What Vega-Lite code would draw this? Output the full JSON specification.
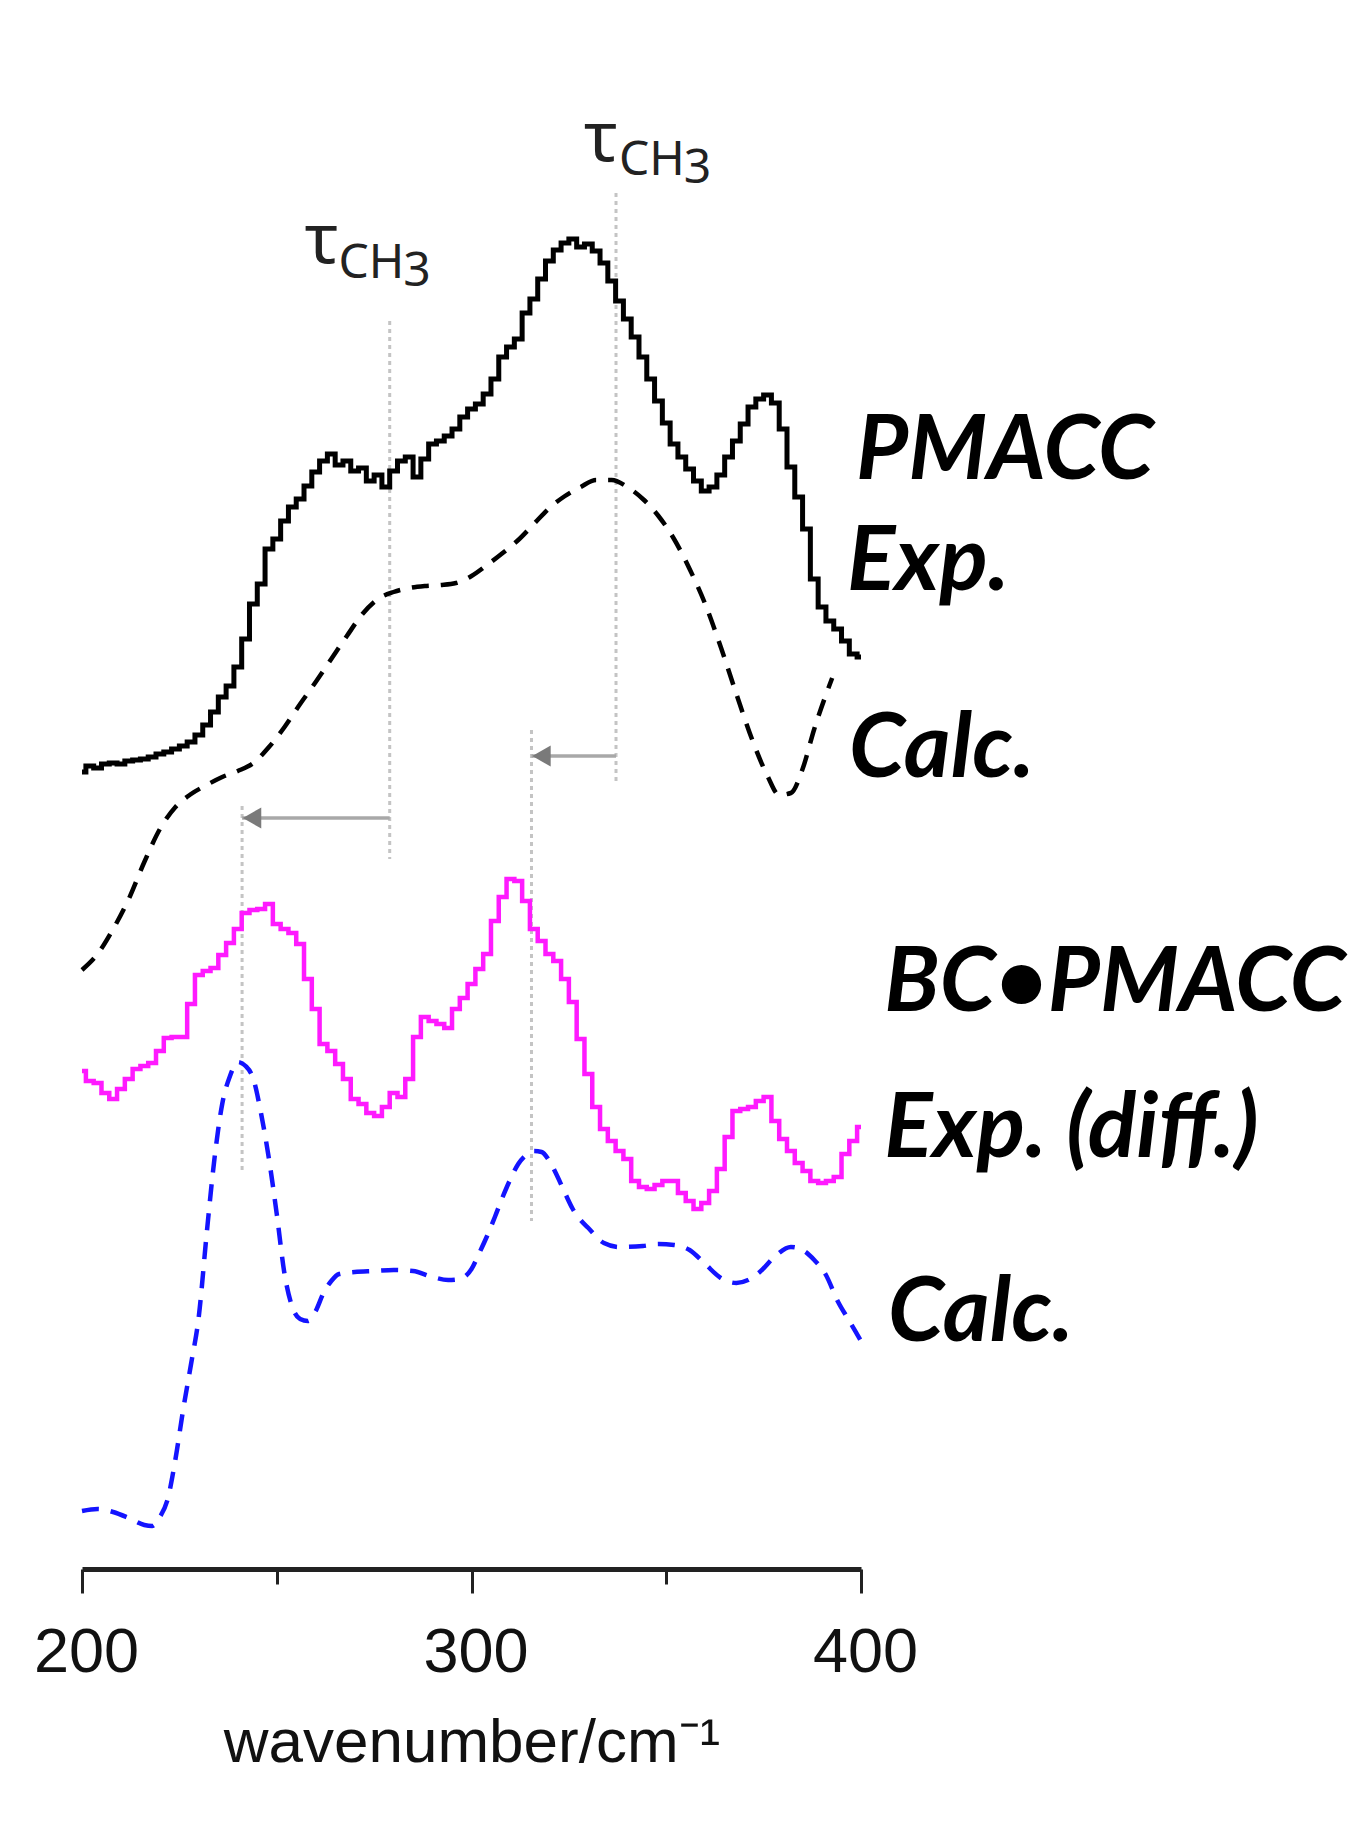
{
"$schema": "https://vega.github.io/schema/vega-lite/v6.json",
"width": 779, "height": 1569,
"autosize": {"type": "none"},
"padding": {"left": 82, "top": 0, "right": 499, "bottom": 263},
"background": "white",
"config": {"view": {"stroke": null}},
"datasets": {
"spectra": [
{"s":"PMACC Exp.","wn":200,"I":797},{"s":"PMACC Exp.","wn":202,"I":803},{"s":"PMACC Exp.","wn":204,"I":801},{"s":"PMACC Exp.","wn":206,"I":805},{"s":"PMACC Exp.","wn":208,"I":806},{"s":"PMACC Exp.","wn":210,"I":805},{"s":"PMACC Exp.","wn":212,"I":808},{"s":"PMACC Exp.","wn":214,"I":809},{"s":"PMACC Exp.","wn":216,"I":810},{"s":"PMACC Exp.","wn":218,"I":812},{"s":"PMACC Exp.","wn":220,"I":815},{"s":"PMACC Exp.","wn":222,"I":817},{"s":"PMACC Exp.","wn":224,"I":820},{"s":"PMACC Exp.","wn":226,"I":823},{"s":"PMACC Exp.","wn":228,"I":827},{"s":"PMACC Exp.","wn":230,"I":834},{"s":"PMACC Exp.","wn":232,"I":844},{"s":"PMACC Exp.","wn":234,"I":857},{"s":"PMACC Exp.","wn":236,"I":872},{"s":"PMACC Exp.","wn":238,"I":883},{"s":"PMACC Exp.","wn":240,"I":902},{"s":"PMACC Exp.","wn":242,"I":930},{"s":"PMACC Exp.","wn":244,"I":965},{"s":"PMACC Exp.","wn":246,"I":985},{"s":"PMACC Exp.","wn":248,"I":1020},{"s":"PMACC Exp.","wn":250,"I":1030},{"s":"PMACC Exp.","wn":252,"I":1048},{"s":"PMACC Exp.","wn":254,"I":1062},{"s":"PMACC Exp.","wn":256,"I":1070},{"s":"PMACC Exp.","wn":258,"I":1083},{"s":"PMACC Exp.","wn":260,"I":1097},{"s":"PMACC Exp.","wn":262,"I":1108},{"s":"PMACC Exp.","wn":264,"I":1115},{"s":"PMACC Exp.","wn":266,"I":1104},{"s":"PMACC Exp.","wn":268,"I":1108},{"s":"PMACC Exp.","wn":270,"I":1098},{"s":"PMACC Exp.","wn":272,"I":1101},{"s":"PMACC Exp.","wn":274,"I":1088},{"s":"PMACC Exp.","wn":276,"I":1094},{"s":"PMACC Exp.","wn":278,"I":1082},{"s":"PMACC Exp.","wn":280,"I":1098},{"s":"PMACC Exp.","wn":282,"I":1108},{"s":"PMACC Exp.","wn":284,"I":1112},{"s":"PMACC Exp.","wn":286,"I":1092},{"s":"PMACC Exp.","wn":288,"I":1110},{"s":"PMACC Exp.","wn":290,"I":1125},{"s":"PMACC Exp.","wn":292,"I":1128},{"s":"PMACC Exp.","wn":294,"I":1133},{"s":"PMACC Exp.","wn":296,"I":1140},{"s":"PMACC Exp.","wn":298,"I":1152},{"s":"PMACC Exp.","wn":300,"I":1160},{"s":"PMACC Exp.","wn":302,"I":1165},{"s":"PMACC Exp.","wn":304,"I":1175},{"s":"PMACC Exp.","wn":306,"I":1190},{"s":"PMACC Exp.","wn":308,"I":1212},{"s":"PMACC Exp.","wn":310,"I":1222},{"s":"PMACC Exp.","wn":312,"I":1230},{"s":"PMACC Exp.","wn":314,"I":1256},{"s":"PMACC Exp.","wn":316,"I":1270},{"s":"PMACC Exp.","wn":318,"I":1290},{"s":"PMACC Exp.","wn":320,"I":1308},{"s":"PMACC Exp.","wn":322,"I":1319},{"s":"PMACC Exp.","wn":324,"I":1326},{"s":"PMACC Exp.","wn":326,"I":1330},{"s":"PMACC Exp.","wn":328,"I":1322},{"s":"PMACC Exp.","wn":330,"I":1325},{"s":"PMACC Exp.","wn":332,"I":1318},{"s":"PMACC Exp.","wn":334,"I":1306},{"s":"PMACC Exp.","wn":336,"I":1288},{"s":"PMACC Exp.","wn":338,"I":1268},{"s":"PMACC Exp.","wn":340,"I":1250},{"s":"PMACC Exp.","wn":342,"I":1232},{"s":"PMACC Exp.","wn":344,"I":1212},{"s":"PMACC Exp.","wn":346,"I":1190},{"s":"PMACC Exp.","wn":348,"I":1168},{"s":"PMACC Exp.","wn":350,"I":1146},{"s":"PMACC Exp.","wn":352,"I":1125},{"s":"PMACC Exp.","wn":354,"I":1112},{"s":"PMACC Exp.","wn":356,"I":1100},{"s":"PMACC Exp.","wn":358,"I":1088},{"s":"PMACC Exp.","wn":360,"I":1078},{"s":"PMACC Exp.","wn":362,"I":1082},{"s":"PMACC Exp.","wn":364,"I":1094},{"s":"PMACC Exp.","wn":366,"I":1112},{"s":"PMACC Exp.","wn":368,"I":1128},{"s":"PMACC Exp.","wn":370,"I":1145},{"s":"PMACC Exp.","wn":372,"I":1162},{"s":"PMACC Exp.","wn":374,"I":1170},{"s":"PMACC Exp.","wn":376,"I":1174},{"s":"PMACC Exp.","wn":378,"I":1166},{"s":"PMACC Exp.","wn":380,"I":1140},{"s":"PMACC Exp.","wn":382,"I":1102},{"s":"PMACC Exp.","wn":384,"I":1072},{"s":"PMACC Exp.","wn":386,"I":1040},{"s":"PMACC Exp.","wn":388,"I":990},{"s":"PMACC Exp.","wn":390,"I":962},{"s":"PMACC Exp.","wn":392,"I":948},{"s":"PMACC Exp.","wn":394,"I":940},{"s":"PMACC Exp.","wn":396,"I":928},{"s":"PMACC Exp.","wn":398,"I":915},{"s":"PMACC Exp.","wn":400,"I":912},

{"s":"PMACC Calc.","wn":200,"I":599},{"s":"PMACC Calc.","wn":204,"I":615},{"s":"PMACC Calc.","wn":208,"I":640},{"s":"PMACC Calc.","wn":212,"I":670},{"s":"PMACC Calc.","wn":216,"I":707},{"s":"PMACC Calc.","wn":220,"I":740},{"s":"PMACC Calc.","wn":224,"I":762},{"s":"PMACC Calc.","wn":228,"I":775},{"s":"PMACC Calc.","wn":232,"I":784},{"s":"PMACC Calc.","wn":236,"I":792},{"s":"PMACC Calc.","wn":240,"I":798},{"s":"PMACC Calc.","wn":244,"I":806},{"s":"PMACC Calc.","wn":248,"I":822},{"s":"PMACC Calc.","wn":252,"I":842},{"s":"PMACC Calc.","wn":256,"I":865},{"s":"PMACC Calc.","wn":260,"I":887},{"s":"PMACC Calc.","wn":264,"I":910},{"s":"PMACC Calc.","wn":268,"I":933},{"s":"PMACC Calc.","wn":272,"I":955},{"s":"PMACC Calc.","wn":276,"I":970},{"s":"PMACC Calc.","wn":280,"I":977},{"s":"PMACC Calc.","wn":284,"I":981},{"s":"PMACC Calc.","wn":288,"I":983},{"s":"PMACC Calc.","wn":292,"I":984},{"s":"PMACC Calc.","wn":296,"I":986},{"s":"PMACC Calc.","wn":300,"I":993},{"s":"PMACC Calc.","wn":304,"I":1004},{"s":"PMACC Calc.","wn":308,"I":1016},{"s":"PMACC Calc.","wn":312,"I":1029},{"s":"PMACC Calc.","wn":316,"I":1045},{"s":"PMACC Calc.","wn":320,"I":1061},{"s":"PMACC Calc.","wn":324,"I":1073},{"s":"PMACC Calc.","wn":328,"I":1082},{"s":"PMACC Calc.","wn":332,"I":1089},{"s":"PMACC Calc.","wn":336,"I":1089},{"s":"PMACC Calc.","wn":340,"I":1082},{"s":"PMACC Calc.","wn":344,"I":1070},{"s":"PMACC Calc.","wn":348,"I":1053},{"s":"PMACC Calc.","wn":352,"I":1030},{"s":"PMACC Calc.","wn":356,"I":1000},{"s":"PMACC Calc.","wn":360,"I":965},{"s":"PMACC Calc.","wn":364,"I":922},{"s":"PMACC Calc.","wn":368,"I":875},{"s":"PMACC Calc.","wn":372,"I":830},{"s":"PMACC Calc.","wn":376,"I":793},{"s":"PMACC Calc.","wn":379,"I":774},{"s":"PMACC Calc.","wn":382,"I":776},{"s":"PMACC Calc.","wn":385,"I":800},{"s":"PMACC Calc.","wn":388,"I":840},{"s":"PMACC Calc.","wn":392.6,"I":891},

{"s":"BC•PMACC Exp. (diff.)","wn":200,"I":498},{"s":"BC•PMACC Exp. (diff.)","wn":202,"I":488},{"s":"BC•PMACC Exp. (diff.)","wn":204,"I":486},{"s":"BC•PMACC Exp. (diff.)","wn":206,"I":476},{"s":"BC•PMACC Exp. (diff.)","wn":208,"I":470},{"s":"BC•PMACC Exp. (diff.)","wn":210,"I":480},{"s":"BC•PMACC Exp. (diff.)","wn":212,"I":490},{"s":"BC•PMACC Exp. (diff.)","wn":214,"I":500},{"s":"BC•PMACC Exp. (diff.)","wn":216,"I":503},{"s":"BC•PMACC Exp. (diff.)","wn":218,"I":506},{"s":"BC•PMACC Exp. (diff.)","wn":220,"I":518},{"s":"BC•PMACC Exp. (diff.)","wn":222,"I":531},{"s":"BC•PMACC Exp. (diff.)","wn":224,"I":532},{"s":"BC•PMACC Exp. (diff.)","wn":226,"I":532},{"s":"BC•PMACC Exp. (diff.)","wn":228,"I":565},{"s":"BC•PMACC Exp. (diff.)","wn":230,"I":594},{"s":"BC•PMACC Exp. (diff.)","wn":232,"I":598},{"s":"BC•PMACC Exp. (diff.)","wn":234,"I":601},{"s":"BC•PMACC Exp. (diff.)","wn":236,"I":614},{"s":"BC•PMACC Exp. (diff.)","wn":238,"I":626},{"s":"BC•PMACC Exp. (diff.)","wn":240,"I":640},{"s":"BC•PMACC Exp. (diff.)","wn":242,"I":656},{"s":"BC•PMACC Exp. (diff.)","wn":244,"I":659},{"s":"BC•PMACC Exp. (diff.)","wn":246,"I":660},{"s":"BC•PMACC Exp. (diff.)","wn":248,"I":665},{"s":"BC•PMACC Exp. (diff.)","wn":250,"I":645},{"s":"BC•PMACC Exp. (diff.)","wn":252,"I":640},{"s":"BC•PMACC Exp. (diff.)","wn":254,"I":636},{"s":"BC•PMACC Exp. (diff.)","wn":256,"I":625},{"s":"BC•PMACC Exp. (diff.)","wn":258,"I":590},{"s":"BC•PMACC Exp. (diff.)","wn":260,"I":560},{"s":"BC•PMACC Exp. (diff.)","wn":262,"I":525},{"s":"BC•PMACC Exp. (diff.)","wn":264,"I":518},{"s":"BC•PMACC Exp. (diff.)","wn":266,"I":505},{"s":"BC•PMACC Exp. (diff.)","wn":268,"I":490},{"s":"BC•PMACC Exp. (diff.)","wn":270,"I":470},{"s":"BC•PMACC Exp. (diff.)","wn":272,"I":465},{"s":"BC•PMACC Exp. (diff.)","wn":274,"I":456},{"s":"BC•PMACC Exp. (diff.)","wn":276,"I":453},{"s":"BC•PMACC Exp. (diff.)","wn":278,"I":462},{"s":"BC•PMACC Exp. (diff.)","wn":280,"I":476},{"s":"BC•PMACC Exp. (diff.)","wn":282,"I":472},{"s":"BC•PMACC Exp. (diff.)","wn":284,"I":490},{"s":"BC•PMACC Exp. (diff.)","wn":286,"I":532},{"s":"BC•PMACC Exp. (diff.)","wn":288,"I":552},{"s":"BC•PMACC Exp. (diff.)","wn":290,"I":548},{"s":"BC•PMACC Exp. (diff.)","wn":292,"I":545},{"s":"BC•PMACC Exp. (diff.)","wn":294,"I":541},{"s":"BC•PMACC Exp. (diff.)","wn":296,"I":560},{"s":"BC•PMACC Exp. (diff.)","wn":298,"I":571},{"s":"BC•PMACC Exp. (diff.)","wn":300,"I":585},{"s":"BC•PMACC Exp. (diff.)","wn":302,"I":600},{"s":"BC•PMACC Exp. (diff.)","wn":304,"I":615},{"s":"BC•PMACC Exp. (diff.)","wn":306,"I":648},{"s":"BC•PMACC Exp. (diff.)","wn":308,"I":672},{"s":"BC•PMACC Exp. (diff.)","wn":310,"I":690},{"s":"BC•PMACC Exp. (diff.)","wn":312,"I":688},{"s":"BC•PMACC Exp. (diff.)","wn":314,"I":668},{"s":"BC•PMACC Exp. (diff.)","wn":316,"I":640},{"s":"BC•PMACC Exp. (diff.)","wn":318,"I":628},{"s":"BC•PMACC Exp. (diff.)","wn":320,"I":615},{"s":"BC•PMACC Exp. (diff.)","wn":322,"I":608},{"s":"BC•PMACC Exp. (diff.)","wn":324,"I":590},{"s":"BC•PMACC Exp. (diff.)","wn":326,"I":567},{"s":"BC•PMACC Exp. (diff.)","wn":328,"I":530},{"s":"BC•PMACC Exp. (diff.)","wn":330,"I":495},{"s":"BC•PMACC Exp. (diff.)","wn":332,"I":462},{"s":"BC•PMACC Exp. (diff.)","wn":334,"I":440},{"s":"BC•PMACC Exp. (diff.)","wn":336,"I":428},{"s":"BC•PMACC Exp. (diff.)","wn":338,"I":418},{"s":"BC•PMACC Exp. (diff.)","wn":340,"I":410},{"s":"BC•PMACC Exp. (diff.)","wn":342,"I":388},{"s":"BC•PMACC Exp. (diff.)","wn":344,"I":382},{"s":"BC•PMACC Exp. (diff.)","wn":346,"I":380},{"s":"BC•PMACC Exp. (diff.)","wn":348,"I":384},{"s":"BC•PMACC Exp. (diff.)","wn":350,"I":388},{"s":"BC•PMACC Exp. (diff.)","wn":352,"I":388},{"s":"BC•PMACC Exp. (diff.)","wn":354,"I":376},{"s":"BC•PMACC Exp. (diff.)","wn":356,"I":368},{"s":"BC•PMACC Exp. (diff.)","wn":358,"I":360},{"s":"BC•PMACC Exp. (diff.)","wn":360,"I":366},{"s":"BC•PMACC Exp. (diff.)","wn":362,"I":378},{"s":"BC•PMACC Exp. (diff.)","wn":364,"I":400},{"s":"BC•PMACC Exp. (diff.)","wn":366,"I":432},{"s":"BC•PMACC Exp. (diff.)","wn":368,"I":458},{"s":"BC•PMACC Exp. (diff.)","wn":370,"I":460},{"s":"BC•PMACC Exp. (diff.)","wn":372,"I":462},{"s":"BC•PMACC Exp. (diff.)","wn":374,"I":468},{"s":"BC•PMACC Exp. (diff.)","wn":376,"I":472},{"s":"BC•PMACC Exp. (diff.)","wn":378,"I":448},{"s":"BC•PMACC Exp. (diff.)","wn":380,"I":430},{"s":"BC•PMACC Exp. (diff.)","wn":382,"I":418},{"s":"BC•PMACC Exp. (diff.)","wn":384,"I":406},{"s":"BC•PMACC Exp. (diff.)","wn":386,"I":398},{"s":"BC•PMACC Exp. (diff.)","wn":388,"I":388},{"s":"BC•PMACC Exp. (diff.)","wn":390,"I":386},{"s":"BC•PMACC Exp. (diff.)","wn":392,"I":388},{"s":"BC•PMACC Exp. (diff.)","wn":394,"I":392},{"s":"BC•PMACC Exp. (diff.)","wn":396,"I":415},{"s":"BC•PMACC Exp. (diff.)","wn":398,"I":428},{"s":"BC•PMACC Exp. (diff.)","wn":400,"I":442},

{"s":"BC•PMACC Calc.","wn":200,"I":58},{"s":"BC•PMACC Calc.","wn":204,"I":60},{"s":"BC•PMACC Calc.","wn":208,"I":57},{"s":"BC•PMACC Calc.","wn":212,"I":51},{"s":"BC•PMACC Calc.","wn":216,"I":44},{"s":"BC•PMACC Calc.","wn":218,"I":43},{"s":"BC•PMACC Calc.","wn":220,"I":52},{"s":"BC•PMACC Calc.","wn":222,"I":70},{"s":"BC•PMACC Calc.","wn":224,"I":110},{"s":"BC•PMACC Calc.","wn":226,"I":160},{"s":"BC•PMACC Calc.","wn":228,"I":205},{"s":"BC•PMACC Calc.","wn":230,"I":253},{"s":"BC•PMACC Calc.","wn":232,"I":335},{"s":"BC•PMACC Calc.","wn":234,"I":410},{"s":"BC•PMACC Calc.","wn":236,"I":465},{"s":"BC•PMACC Calc.","wn":238,"I":493},{"s":"BC•PMACC Calc.","wn":240,"I":507},{"s":"BC•PMACC Calc.","wn":242,"I":503},{"s":"BC•PMACC Calc.","wn":244,"I":490},{"s":"BC•PMACC Calc.","wn":246,"I":455},{"s":"BC•PMACC Calc.","wn":248,"I":410},{"s":"BC•PMACC Calc.","wn":250,"I":355},{"s":"BC•PMACC Calc.","wn":252,"I":295},{"s":"BC•PMACC Calc.","wn":254,"I":262},{"s":"BC•PMACC Calc.","wn":256,"I":250},{"s":"BC•PMACC Calc.","wn":258,"I":248},{"s":"BC•PMACC Calc.","wn":260,"I":258},{"s":"BC•PMACC Calc.","wn":262,"I":276},{"s":"BC•PMACC Calc.","wn":264,"I":288},{"s":"BC•PMACC Calc.","wn":266,"I":295},{"s":"BC•PMACC Calc.","wn":270,"I":297},{"s":"BC•PMACC Calc.","wn":275,"I":298},{"s":"BC•PMACC Calc.","wn":280,"I":299},{"s":"BC•PMACC Calc.","wn":285,"I":298},{"s":"BC•PMACC Calc.","wn":290,"I":292},{"s":"BC•PMACC Calc.","wn":294,"I":289},{"s":"BC•PMACC Calc.","wn":297,"I":290},{"s":"BC•PMACC Calc.","wn":300,"I":300},{"s":"BC•PMACC Calc.","wn":302,"I":316},{"s":"BC•PMACC Calc.","wn":304,"I":333},{"s":"BC•PMACC Calc.","wn":306,"I":352},{"s":"BC•PMACC Calc.","wn":308,"I":372},{"s":"BC•PMACC Calc.","wn":310,"I":390},{"s":"BC•PMACC Calc.","wn":312,"I":405},{"s":"BC•PMACC Calc.","wn":314,"I":414},{"s":"BC•PMACC Calc.","wn":316,"I":418},{"s":"BC•PMACC Calc.","wn":318,"I":417},{"s":"BC•PMACC Calc.","wn":320,"I":408},{"s":"BC•PMACC Calc.","wn":322,"I":393},{"s":"BC•PMACC Calc.","wn":324,"I":376},{"s":"BC•PMACC Calc.","wn":326,"I":360},{"s":"BC•PMACC Calc.","wn":328,"I":349},{"s":"BC•PMACC Calc.","wn":330,"I":341},{"s":"BC•PMACC Calc.","wn":334,"I":326},{"s":"BC•PMACC Calc.","wn":338,"I":322},{"s":"BC•PMACC Calc.","wn":344,"I":323},{"s":"BC•PMACC Calc.","wn":348,"I":325},{"s":"BC•PMACC Calc.","wn":352,"I":324},{"s":"BC•PMACC Calc.","wn":356,"I":319},{"s":"BC•PMACC Calc.","wn":360,"I":305},{"s":"BC•PMACC Calc.","wn":364,"I":291},{"s":"BC•PMACC Calc.","wn":368,"I":286},{"s":"BC•PMACC Calc.","wn":371,"I":289},{"s":"BC•PMACC Calc.","wn":374,"I":297},{"s":"BC•PMACC Calc.","wn":378,"I":313},{"s":"BC•PMACC Calc.","wn":382,"I":322},{"s":"BC•PMACC Calc.","wn":385,"I":319},{"s":"BC•PMACC Calc.","wn":388,"I":309},{"s":"BC•PMACC Calc.","wn":391,"I":294},{"s":"BC•PMACC Calc.","wn":394,"I":268},{"s":"BC•PMACC Calc.","wn":397,"I":248},{"s":"BC•PMACC Calc.","wn":400,"I":228}
],
"guides": [
{"wn":279,"I":1248,"I2":710},
{"wn":337.1,"I":1376,"I2":786},
{"wn":241.1,"I":763,"I2":395},
{"wn":315.4,"I":839,"I2":348}
],
"arrows": [
{"from":279,"to":241.1,"I":751},
{"from":337.1,"to":315.4,"I":813}
],
"tau": [
{"wn":261.5,"I":1327,"text":"τ"},
{"wn":333.2,"I":1429,"text":"τ"}
],
"sub": [
{"wn":274.3,"I":1305.5,"text":"CH"},
{"wn":286,"I":1297.5,"text":"3"},
{"wn":346.3,"I":1408,"text":"CH"},
{"wn":358,"I":1400,"text":"3"}
],
"names": [
{"wn":398.7,"I":1090,"text":"PMACC"},
{"wn":396.4,"I":979,"text":"Exp."},
{"wn":396.9,"I":792,"text":"Calc."},
{"wn":406,"I":558,"text":"BC•PMACC"},
{"wn":406,"I":412,"text":"Exp. (diff.)"},
{"wn":406.9,"I":228,"text":"Calc."}
]
},
"layer": [
{
"data": {"name": "guides"},
"mark": {"type": "rule", "color": "#c4c4c4", "strokeWidth": 3, "strokeDash": [4, 4]},
"encoding": {
"x": {"field": "wn", "type": "quantitative", "scale": {"domain": [200, 400], "nice": false, "zero": false},
"axis": {"orient": "bottom", "values": [250, 350], "tickSize": 15, "tickWidth": 3, "tickColor": "#222", "labels": false, "domain": false, "grid": false, "title": null}},
"y": {"field": "I", "type": "quantitative", "scale": {"domain": [0, 1569], "nice": false, "zero": false}, "axis": null},
"y2": {"field": "I2"}
}
},
{
"data": {"name": "spectra"},
"transform": [{"filter": "datum.s === 'PMACC Exp.'"}],
"mark": {"type": "line", "color": "#000000", "strokeWidth": 5, "interpolate": "step"},
"encoding": {
"x": {"field": "wn", "type": "quantitative",
"axis": {"orient": "bottom", "values": [200, 300, 400], "tickSize": 24, "tickWidth": 3, "tickColor": "#222", "domainWidth": 5, "domainColor": "#222", "grid": false,
"labelFont": "Liberation Sans", "labelFontSize": 63, "labelColor": "#111", "labelPadding": 28, "labelFlush": false, "labelOffset": 4,
"title": "wavenumber/cm⁻¹", "titleFont": "Liberation Sans", "titleFontSize": 62, "titleFontWeight": "normal", "titleColor": "#111", "titlePadding": 28}},
"y": {"field": "I", "type": "quantitative", "axis": null}
}
},
{
"data": {"name": "spectra"},
"transform": [{"filter": "datum.s === 'PMACC Calc.'"}],
"mark": {"type": "line", "color": "#000000", "strokeWidth": 4.5, "strokeDash": [17, 12], "interpolate": "monotone"},
"encoding": {
"x": {"field": "wn", "type": "quantitative", "axis": null},
"y": {"field": "I", "type": "quantitative", "axis": null}
}
},
{
"data": {"name": "spectra"},
"transform": [{"filter": "datum.s === 'BC•PMACC Exp. (diff.)'"}],
"mark": {"type": "line", "color": "#ff1aff", "strokeWidth": 4.5, "interpolate": "step"},
"encoding": {
"x": {"field": "wn", "type": "quantitative", "axis": null},
"y": {"field": "I", "type": "quantitative", "axis": null}
}
},
{
"data": {"name": "spectra"},
"transform": [{"filter": "datum.s === 'BC•PMACC Calc.'"}],
"mark": {"type": "line", "color": "#1414ff", "strokeWidth": 4.5, "strokeDash": [17, 12], "interpolate": "monotone"},
"encoding": {
"x": {"field": "wn", "type": "quantitative", "axis": null},
"y": {"field": "I", "type": "quantitative", "axis": null}
}
},
{
"data": {"name": "arrows"},
"mark": {"type": "rule", "color": "#a8a8a8", "strokeWidth": 3.5},
"encoding": {
"x": {"field": "from", "type": "quantitative", "axis": null},
"x2": {"field": "to"},
"y": {"field": "I", "type": "quantitative", "axis": null}
}
},
{
"data": {"name": "arrows"},
"mark": {"type": "point", "shape": "triangle-left", "filled": true, "color": "#7a7a7a", "size": 450, "opacity": 1, "xOffset": 10},
"encoding": {
"x": {"field": "to", "type": "quantitative", "axis": null},
"y": {"field": "I", "type": "quantitative", "axis": null}
}
},
{
"data": {"name": "tau"},
"mark": {"type": "text", "font": "Noto Sans", "fontSize": 70, "color": "#222", "align": "center", "baseline": "middle"},
"encoding": {
"x": {"field": "wn", "type": "quantitative", "axis": null},
"y": {"field": "I", "type": "quantitative", "axis": null},
"text": {"field": "text"}
}
},
{
"data": {"name": "sub"},
"mark": {"type": "text", "font": "Noto Sans", "fontSize": 48, "color": "#222", "align": "center", "baseline": "middle"},
"encoding": {
"x": {"field": "wn", "type": "quantitative", "axis": null},
"y": {"field": "I", "type": "quantitative", "axis": null},
"text": {"field": "text"}
}
},
{
"data": {"name": "names"},
"mark": {"type": "text", "font": "Lato", "fontSize": 90, "fontStyle": "italic", "fontWeight": "bold", "color": "#000", "align": "left", "baseline": "alphabetic"},
"encoding": {
"x": {"field": "wn", "type": "quantitative", "axis": null},
"y": {"field": "I", "type": "quantitative", "axis": null},
"text": {"field": "text"}
}
}
],
"resolve": {"axis": {"x": "independent"}}
}
